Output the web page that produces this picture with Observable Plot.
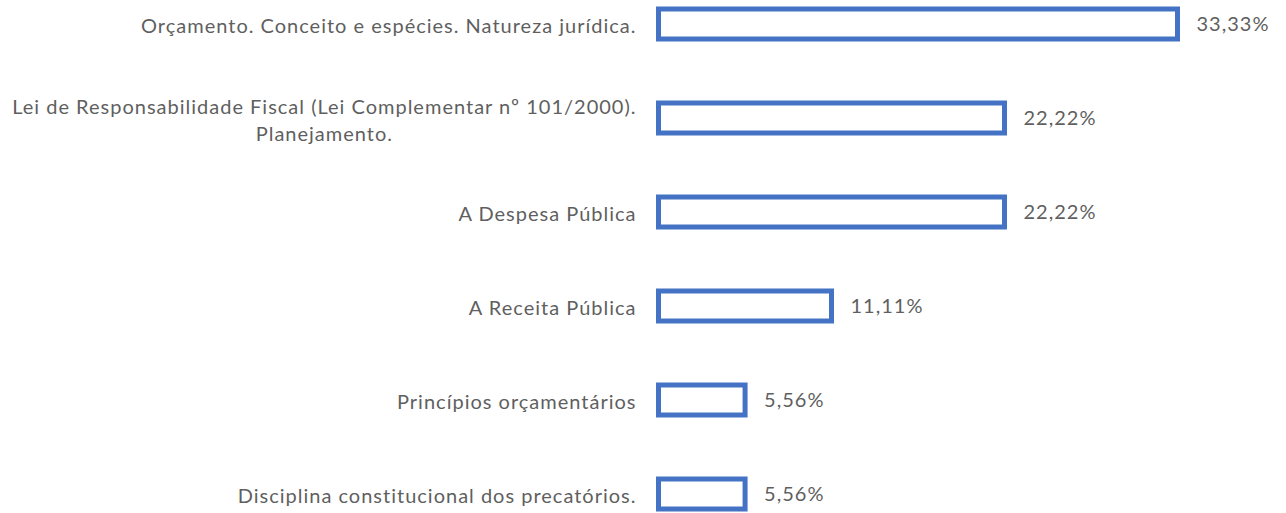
<!DOCTYPE html>
<html>
<head>
<meta charset="utf-8">
<script src="https://cdn.jsdelivr.net/npm/d3@7"></script>
<script src="https://cdn.jsdelivr.net/npm/@observablehq/plot@0.6"></script>
<style>
  html, body { margin: 0; padding: 0; background: #ffffff; }
  #chart { width: 1286px; height: 513px; }
</style>
</head>
<body>
<div id="chart"></div>
<script>
const categories = [
  "Orçamento. Conceito e espécies. Natureza jurídica.",
  "Lei de Responsabilidade Fiscal (Lei Complementar nº 101/2000).\nPlanejamento.",
  "A Despesa Pública",
  "A Receita Pública",
  "Princípios orçamentários",
  "Disciplina constitucional dos precatórios."
];
const values = [33.33, 22.22, 22.22, 11.11, 5.56, 5.56];
const valueLabels = ["33,33%", "22,22%", "22,22%", "11,11%", "5,56%", "5,56%"];

const data = categories.map((c, i) => ({category: c, value: values[i], label: valueLabels[i]}));

const step = 94.6;
const yStart = 22.5 - step / 2;

const chart = Plot.plot({
  width: 1286,
  height: 513,
  margin: 0,
  style: {fontFamily: "Lato, 'Open Sans', sans-serif", fontSize: "20px", letterSpacing: "1px", background: "#ffffff", overflow: "visible"},
  x: {domain: [0, 33.33], range: [658.5, 1177.5], axis: null},
  y: {domain: categories, range: [yStart, yStart + step * categories.length], paddingInner: 0.683, paddingOuter: 0.3415, axis: null},
  marks: [
    Plot.barX(data, {y: "category", x1: 0, x2: "value", fill: "#ffffff", stroke: "#4472C4", strokeWidth: 5}),
    Plot.text(data, {y: "category", x: 0, text: "category", textAnchor: "end", dx: -22.5, fill: "#5f5f5f", fontSize: 20, lineHeight: 1.35, lineAnchor: "middle"}),
    Plot.text(data, {y: "category", x: "value", text: "label", textAnchor: "start", dx: 18.5, fill: "#5f5f5f", fontSize: 20})
  ]
});

document.getElementById("chart").appendChild(chart);

// Center multi-line category labels within their block (as in the reference)
chart.querySelectorAll("text").forEach(t => {
  const spans = t.querySelectorAll("tspan");
  if (spans.length > 1) {
    const bb = t.getBBox();
    const cx = bb.x + bb.width / 2;
    t.setAttribute("text-anchor", "middle");
    spans.forEach(s => s.setAttribute("x", cx));
  }
});
</script>
</body>
</html>
